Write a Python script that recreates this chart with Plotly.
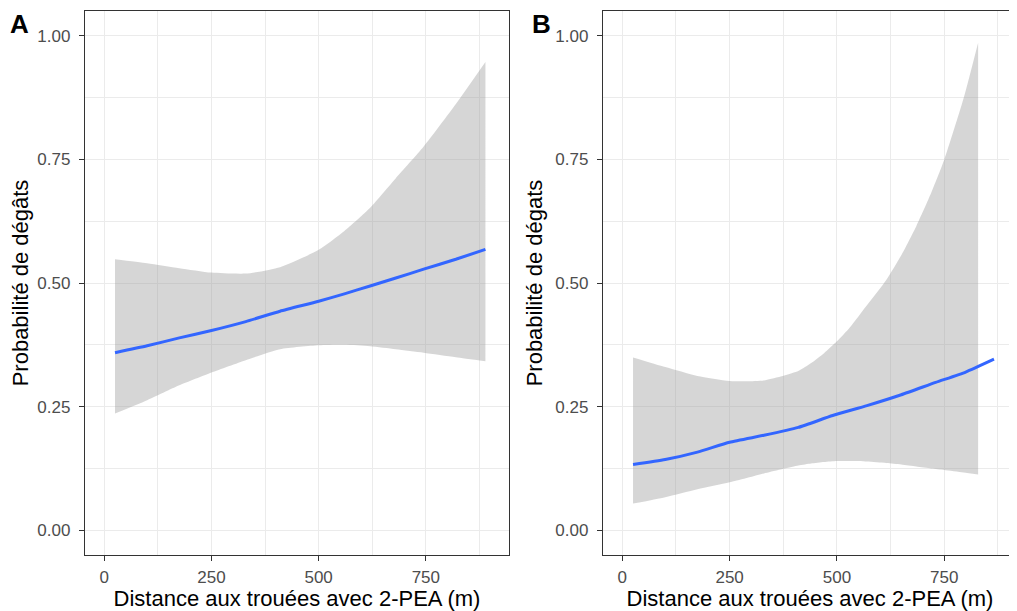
import plotly.graph_objects as go

# ---------------- Panel A data ----------------
a_x = [25, 100, 175, 250, 330, 410, 500, 560, 620, 680, 745, 820, 889]
a_fit = [0.359, 0.373, 0.389, 0.404, 0.422, 0.443, 0.463, 0.478, 0.494, 0.510, 0.528, 0.548, 0.568]
a_lower = [0.236, 0.263, 0.293, 0.319, 0.344, 0.366, 0.374, 0.375, 0.372, 0.366, 0.359, 0.350, 0.342]
a_upper = [0.548, 0.540, 0.530, 0.521, 0.519, 0.532, 0.567, 0.605, 0.652, 0.712, 0.776, 0.862, 0.947]

# ---------------- Panel B data ----------------
b_fit_x = [25, 100, 175, 250, 330, 410, 490, 570, 650, 730, 800, 866]
b_fit = [0.133, 0.143, 0.158, 0.178, 0.192, 0.208, 0.232, 0.252, 0.274, 0.299, 0.320, 0.346]
b_band_x = [25, 100, 175, 250, 330, 410, 440, 470, 500, 530, 570, 615, 650, 685, 720, 750, 795, 829]
b_lower = [0.054, 0.067, 0.083, 0.097, 0.115, 0.131, 0.135, 0.138, 0.140, 0.140, 0.139, 0.136,
           0.133, 0.129, 0.125, 0.122, 0.117, 0.113]
b_upper = [0.3495, 0.330, 0.312, 0.302, 0.303, 0.322, 0.338, 0.358, 0.382, 0.410, 0.455, 0.506,
           0.556, 0.615, 0.683, 0.749, 0.873, 0.986]

x_ticks = [0, 250, 500, 750]
y_ticks = [0, 0.25, 0.5, 0.75, 1.0]
x_title = "Distance aux trouées avec 2-PEA (m)"
y_title_a = "Probabilité de dégâts"
y_title_b = "Probabilité de dégats"
panel_labels = ["A", "B"]

FONT = "Liberation Sans, Arial, sans-serif"
BAND = "rgba(153,153,153,0.4)"
LINE = "#3366FF"

fig = go.Figure()


def add_panel(xs, lo, hi, fx, fy, xa, ya):
    fig.add_trace(go.Scatter(x=xs, y=lo, mode="lines", line=dict(width=0, shape="spline", smoothing=0.6),
                             xaxis=xa, yaxis=ya, showlegend=False, hoverinfo="skip"))
    fig.add_trace(go.Scatter(x=xs, y=hi, mode="lines", line=dict(width=0, shape="spline", smoothing=0.6),
                             fill="tonexty", fillcolor=BAND,
                             xaxis=xa, yaxis=ya, showlegend=False, hoverinfo="skip"))
    fig.add_trace(go.Scatter(x=fx, y=fy, mode="lines",
                             line=dict(color=LINE, width=3, shape="spline", smoothing=0.5),
                             xaxis=xa, yaxis=ya, showlegend=False))


add_panel(a_x, a_lower, a_upper, a_x, a_fit, "x", "y")
add_panel(b_band_x, b_lower, b_upper, b_fit_x, b_fit, "x2", "y2")

# page has an 8px body margin; figure coordinates = page coordinates - 8
OFF = 8
W, H = 1009, 603
ML, MR, MT, MB = 77, 0, 3, 56
PW = W - ML - MR
PH = H - MT - MB


def px_x(p):
    return (p - OFF - ML) / PW


def px_y(p):
    return (H - MB - (p - OFF)) / PH


TICKFONT = dict(family=FONT, size=17, color="#4D4D4D")
TITLEFONT = dict(family=FONT, size=22, color="#000000")

common_x = dict(
    tickvals=x_ticks, ticks="outside", ticklen=5, tickwidth=1.2, tickcolor="#333333",
    tickfont=TICKFONT, ticklabelstandoff=1,
    showline=True, mirror=True, linecolor="#333333", linewidth=1.4,
    showgrid=True, gridcolor="#EBEBEB", gridwidth=1.3, zeroline=False,
    minor=dict(dtick=125, tick0=125, showgrid=True, gridcolor="#EBEBEB", gridwidth=0.9),
    title=dict(text=x_title, font=TITLEFONT, standoff=7),
)
common_y = dict(
    range=[-0.05, 1.05], tickvals=y_ticks, tickformat=".2f",
    ticks="outside", ticklen=5, tickwidth=1.2, tickcolor="#333333",
    tickfont=TICKFONT, ticklabelstandoff=5,
    showline=True, linecolor="#333333", linewidth=1.4,
    showgrid=True, gridcolor="#EBEBEB", gridwidth=1.3, zeroline=False,
    minor=dict(dtick=0.125, tick0=0.125, showgrid=True, gridcolor="#EBEBEB", gridwidth=0.9),
)

fig.update_layout(
    width=W, height=H,
    margin=dict(l=ML, r=MR, t=MT, b=MB),
    paper_bgcolor="white", plot_bgcolor="white",
    font=dict(family=FONT),
    xaxis=dict(domain=[0, px_x(509)], range=[-45, 944], anchor="y", **common_x),
    yaxis=dict(domain=[0, 1], anchor="x", mirror=True,
               title=dict(text=y_title_a, font=TITLEFONT, standoff=6),
               **common_y),
    xaxis2=dict(domain=[px_x(603), 1], range=[-45, 919.6], anchor="y2", **common_x),
    yaxis2=dict(domain=[0, 1], anchor="x2", mirror=False,
                title=dict(text=y_title_b, font=TITLEFONT, standoff=6),
                **common_y),
)

for lab, lx in zip(panel_labels, [19.5, 541]):
    fig.add_annotation(text="<b>%s</b>" % lab, x=px_x(lx), y=px_y(24), xref="paper", yref="paper",
                       xanchor="center", yanchor="middle",
                       showarrow=False, font=dict(family=FONT, size=26, color="#000000"))

fig.write_html("out.html")
